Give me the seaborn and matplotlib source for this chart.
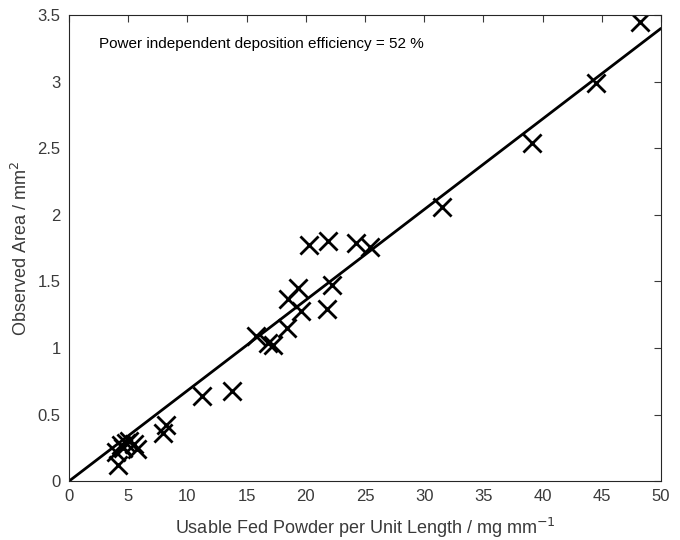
import matplotlib
matplotlib.use("Agg")
import matplotlib.pyplot as plt
import seaborn as sns
import pandas as pd

powder = [48.2, 44.5, 39.1, 31.5, 25.4, 24.2, 21.9, 20.3, 22.2, 21.8, 19.3, 18.5,
          19.6, 18.4, 15.8, 16.8, 17.2, 13.8, 11.2, 8.2, 7.9,
          4.1, 4.0, 4.4, 4.8, 5.1, 5.5, 5.7, 4.6]
area = [3.45, 2.99, 2.54, 2.06, 1.76, 1.79, 1.80, 1.77, 1.47, 1.29, 1.45, 1.37,
        1.28, 1.15, 1.09, 1.04, 1.02, 0.68, 0.64, 0.42, 0.36,
        0.12, 0.22, 0.27, 0.29, 0.30, 0.28, 0.24, 0.25]
fit_x = [0, 50]
fit_y = [0, 3.40]
x_ticks = [0, 5, 10, 15, 20, 25, 30, 35, 40, 45, 50]
y_ticks = [0, 0.5, 1, 1.5, 2, 2.5, 3, 3.5]
y_tick_labels = ["0", "0.5", "1", "1.5", "2", "2.5", "3", "3.5"]

sns.set_theme(style="white")
plt.rcParams['font.family'] = ['Liberation Sans', 'DejaVu Sans']

fig = plt.figure(figsize=(6.8, 5.4), dpi=100)
ax = fig.add_axes([0.1015, 0.109, 0.8705, 0.863])

df = pd.DataFrame({"x": powder, "y": area})
fit = pd.DataFrame({"x": fit_x, "y": fit_y})

sns.lineplot(data=fit, x="x", y="y", ax=ax, color="black", linewidth=2.0)
sns.scatterplot(data=df, x="x", y="y", ax=ax, marker="x", s=170, color="black",
                linewidth=2.0)

ax.set_xlim(0, 50)
ax.set_ylim(0, 3.5)
ax.set_xticks(x_ticks)
ax.set_xticklabels([str(t) for t in x_ticks])
ax.set_yticks(y_ticks)
ax.set_yticklabels(y_tick_labels)
ax.tick_params(direction="in", top=True, right=True, length=5, width=0.8,
               labelsize=12, colors="#3a3a3a", pad=6)
for s in ax.spines.values():
    s.set_color("#262626")
    s.set_linewidth(0.8)

ax.set_xlabel("Usable Fed Powder per Unit Length / mg mm$^{-1}$", fontsize=13,
              color="#3a3a3a", labelpad=8)
ax.set_ylabel("Observed Area / mm$^{2}$", fontsize=13, color="#3a3a3a", labelpad=5)
ax.text(2.5, 3.28, "Power independent deposition efficiency = 52 %", fontsize=11,
        color="black", va="center")

fig.savefig("out.png", dpi=100)
